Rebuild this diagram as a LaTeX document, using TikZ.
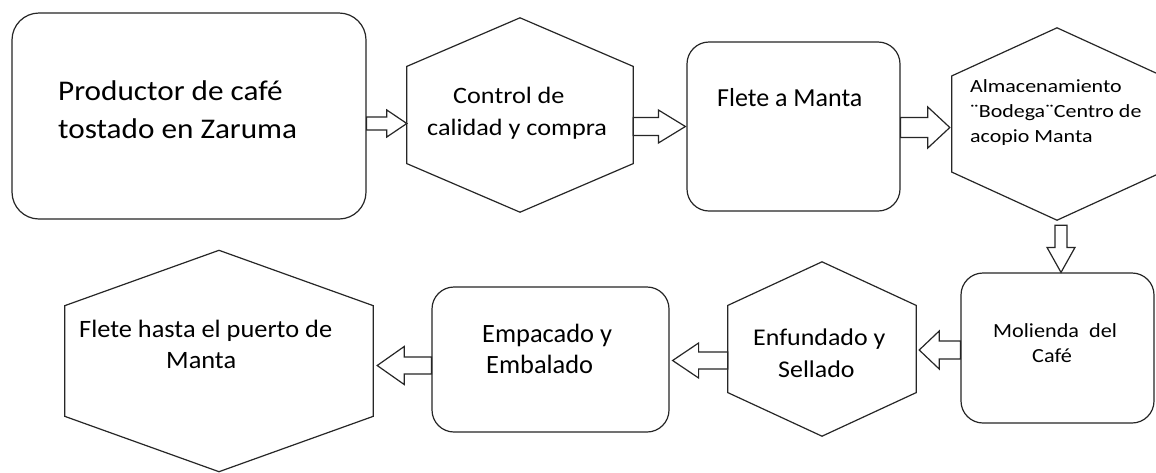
\documentclass[tikz,border=0pt]{standalone}
\usepackage{fontspec}
\setmainfont{Carlito}
\newfontfamily\fsA[FakeStretch=1.095]{Carlito}
\newfontfamily\fsB[FakeStretch=1.115]{Carlito}
\newfontfamily\fsD[FakeStretch=1.18]{Carlito}
\newfontfamily\fsE[FakeStretch=1.11]{Carlito}
\newfontfamily\fsF[FakeStretch=1.08]{Carlito}
\newfontfamily\fsH[FakeStretch=1.055]{Carlito}
\usetikzlibrary{calc}
\tikzset{
  shp/.style={draw=black!85, line width=1.2pt},
  rbox/.style={shp, rounded corners=#1, inner sep=0pt},
  hexframe/.style={inner sep=0pt, draw=none},
  txt/.style={inner sep=0pt, anchor=base west, align=left, text=black},
  arr/.style={draw=black!85, line width=1.2pt, fill=white, line join=miter},
}
\newcommand\drawhex[1]{\draw[shp] (#1.north) -- ($(#1.east)!0.5!(#1.north east)$) -- ($(#1.east)!0.5!(#1.south east)$) -- (#1.south) -- ($(#1.west)!0.5!(#1.south west)$) -- ($(#1.west)!0.5!(#1.north west)$) -- cycle;}
\newcommand\blockarr[5]{%
  \coordinate (bahead) at ($(#2)!#5!(#1)$);
  \draw[arr] ($(#1)!#3!90:(#2)$) -- ($(bahead)!#3!90:(#2)$) -- ($(bahead)!#4!90:(#2)$) -- (#2) -- ($(bahead)!#4!-90:(#2)$) -- ($(bahead)!#3!-90:(#2)$) -- ($(#1)!#3!-90:(#2)$) -- cycle;}
\begin{document}
\begin{tikzpicture}[x=1pt, y=-1pt]
\fill[white] (0,0) rectangle (1156,472);
\useasboundingbox (0,0) rectangle (1156,472);

% shapes
\node[rbox=27pt, minimum width=354pt, minimum height=206pt] (prod) at (189,116) {};
\node[hexframe, minimum width=226pt, minimum height=194pt] (ctrl) at (520,115) {};
\drawhex{ctrl}
\node[rbox=22pt, minimum width=213pt, minimum height=169pt] (flete) at (793.5,126.5) {};
\node[hexframe, minimum width=210pt, minimum height=192pt] (alm) at (1057,124) {};
\drawhex{alm}
\node[rbox=22pt, minimum width=193pt, minimum height=150pt] (mol) at (1057.5,348) {};
\node[hexframe, minimum width=188pt, minimum height=174pt] (enf) at (822,349) {};
\drawhex{enf}
\node[rbox=22pt, minimum width=237pt, minimum height=145pt] (emp) at (550.5,359.5) {};
\node[hexframe, minimum width=308pt, minimum height=221pt] (fle) at (219,361) {};
\drawhex{fle}

% texts (anchored at the baseline of the last line)
\node[txt, font=\fsA\fontsize{28.5}{38}\selectfont] (t1) at (58,138) {Productor de café\\tostado en Zaruma};
\node[txt, font=\fsB\fontsize{23.5}{32}\selectfont] (t2) at (427,135) {\hspace*{26pt}Control de\\calidad y compra};
\node[txt, font=\fontsize{26}{30}\selectfont] (t3) at (717,106) {Flete a Manta};
\node[txt, font=\fsD\fontsize{18.6}{25}\selectfont] (t4) at (970,142) {Almacenamiento\\¨Bodega¨Centro de\\acopio Manta};
\node[txt, font=\fsE\fontsize{20}{25}\selectfont] (t5) at (993,362) {Molienda~ del\\\hspace*{39pt}Café};
\node[txt, font=\fsF\fontsize{24}{32}\selectfont] (t6) at (753,377) {Enfundado y\\\hspace*{25pt}Sellado};
\node[txt, font=\fontsize{26.4}{31}\selectfont] (t7) at (482,373) {Empacado y\\\hspace*{4pt}Embalado};
\node[txt, font=\fsH\fontsize{25}{31}\selectfont] (t8) at (79,368) {Flete hasta el puerto de\\\hspace*{87pt}Manta};

% connectors (block arrows)
\coordinate (a1s) at (prod.east |- 0,123.5);
\coordinate (a1t) at (ctrl.west |- a1s);
\blockarr{a1s}{a1t}{6.5pt}{13.5pt}{20pt}
\coordinate (a2s) at (ctrl.east |- 0,126.5);
\coordinate (a2t) at ($(flete.west |- a2s)+(-1,0)$);
\blockarr{a2s}{a2t}{9pt}{16.5pt}{27pt}
\coordinate (a3s) at (flete.east |- 0,127.5);
\coordinate (a3t) at ($(alm.west |- a3s)+(-2,0)$);
\blockarr{a3s}{a3t}{10pt}{20.5pt}{22pt}
\coordinate (a4s) at ($(alm.south)+(4,5)$);
\coordinate (a4t) at (a4s |- mol.north);
\blockarr{a4s}{a4t}{6pt}{14pt}{25pt}
\coordinate (a5s) at (mol.west |- 0,350);
\coordinate (a5t) at ($(enf.east |- a5s)+(3,0)$);
\blockarr{a5s}{a5t}{9pt}{19pt}{20pt}
\coordinate (a6s) at (enf.west |- 0,360.5);
\coordinate (a6t) at ($(emp.east |- a6s)+(3,0)$);
\blockarr{a6s}{a6t}{8.5pt}{17.5pt}{26pt}
\coordinate (a7s) at (emp.west |- 0,365.5);
\coordinate (a7t) at ($(fle.east |- a7s)+(4,0)$);
\blockarr{a7s}{a7t}{8.5pt}{19pt}{27pt}
\end{tikzpicture}
\end{document}
